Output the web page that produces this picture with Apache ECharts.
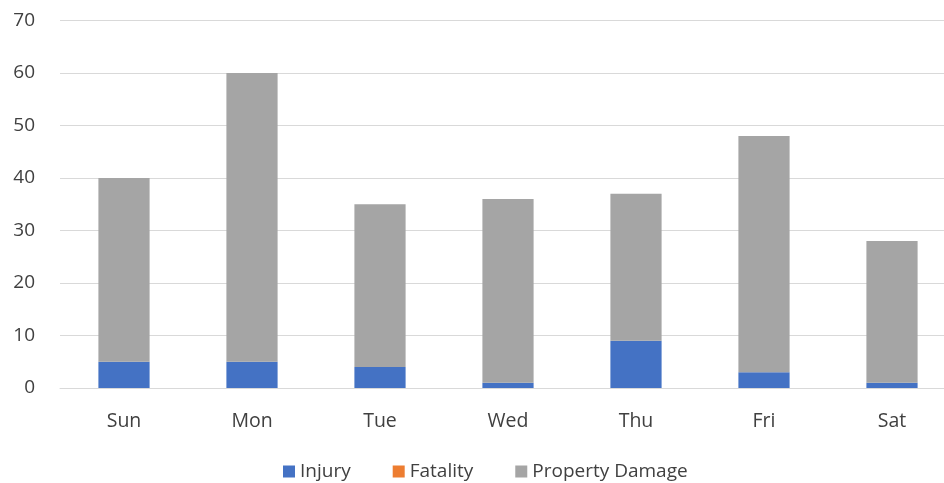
<!DOCTYPE html>
<html><head><meta charset="utf-8">
<script src="https://cdn.jsdelivr.net/npm/echarts@6/dist/echarts.min.js"></script>
<style>html,body{margin:0;padding:0;background:#fff;overflow:hidden}#c{width:960px;height:483px}</style>
</head><body><div id="c"></div>
<script>
var categories = ['Sun','Mon','Tue','Wed','Thu','Fri','Sat'];
var injury = [5,5,4,1,9,3,1];
var fatality = [0,0,0,0,0,0,0];
var propertyDamage = [35,55,31,35,28,45,27];
var yTicks = {min:0,max:70,interval:10};

var chart = echarts.init(document.getElementById('c'));
var font = '"Open Sans", "Noto Sans", sans-serif';
var txt = '#404040';
function s(name, data, color){
  return {name:name,type:'bar',stack:'t',data:data,barWidth:'40%',
    itemStyle:{color:color},emphasis:{disabled:true}};
}
chart.setOption({
  animation:false,
  textStyle:{fontFamily:font},
  grid:{left:60,top:20.5,width:896,height:367.5,containLabel:false},
  legend:{top:457,left:278,itemWidth:12,itemHeight:12,itemGap:42,icon:'rect',
    textStyle:{fontSize:19,color:txt,fontFamily:font},
    data:['Injury','Fatality','Property Damage']},
  xAxis:{type:'category',data:categories,
    axisLine:{lineStyle:{color:'#d9d9d9'}},axisTick:{show:false},
    axisLabel:{color:txt,fontSize:19.5,margin:23,fontFamily:font}},
  yAxis:{type:'value',min:yTicks.min,max:yTicks.max,interval:yTicks.interval,
    axisLine:{show:false},axisTick:{show:false},
    splitLine:{lineStyle:{color:'#d9d9d9',width:1}},
    axisLabel:{color:txt,fontSize:19,margin:25,fontFamily:font}},
  series:[s('Injury',injury,'#4472c4'),s('Fatality',fatality,'#ed7d31'),s('Property Damage',propertyDamage,'#a5a5a5')]
});
</script></body></html>
